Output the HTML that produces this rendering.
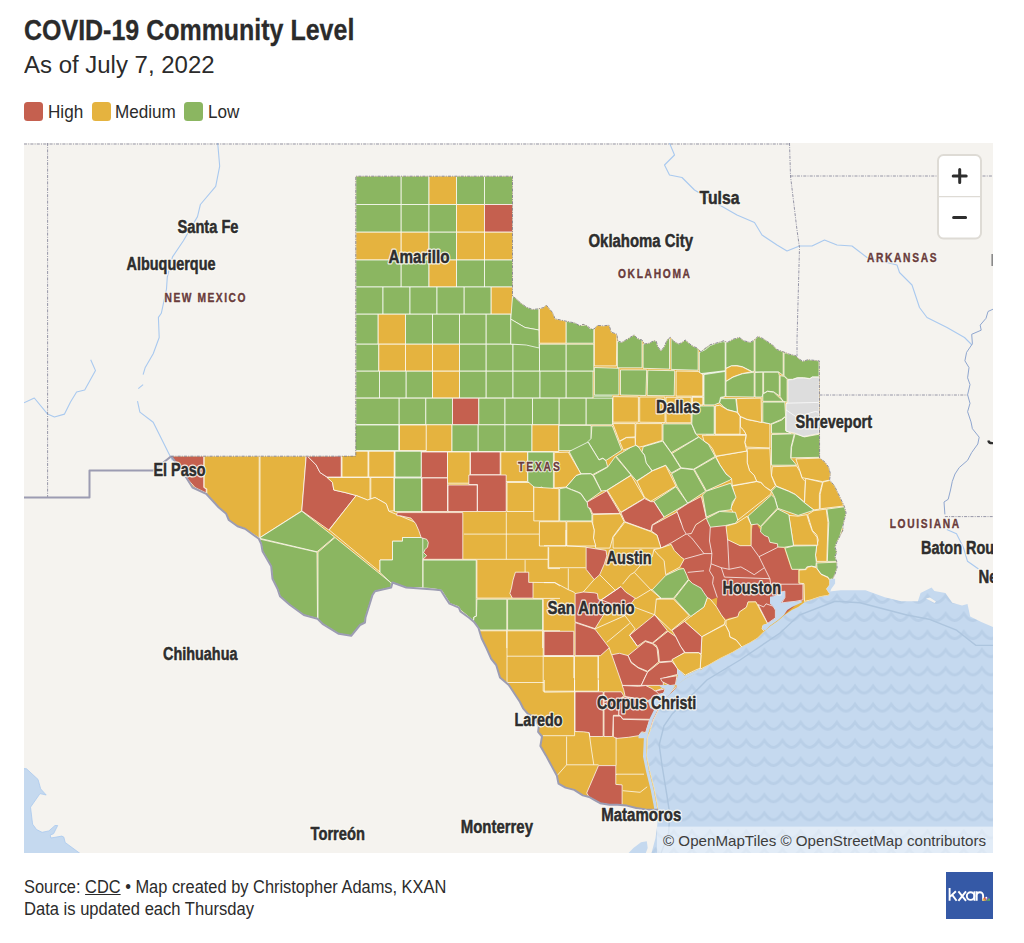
<!DOCTYPE html>
<html><head><meta charset="utf-8"><title>COVID-19 Community Level</title>
<style>
html,body{margin:0;padding:0;background:#fff;}
body{width:1024px;height:943px;position:relative;overflow:hidden;font-family:"Liberation Sans",sans-serif;color:#222;}
.abs{position:absolute;white-space:nowrap;transform-origin:0 0;}
#title{left:24px;top:12px;font-size:30.2px;line-height:36px;font-weight:bold;color:#2b2b2b;-webkit-text-stroke:0.3px #2b2b2b;transform:scaleX(0.8274);}
#sub{left:24px;top:50px;font-size:24.7px;line-height:30px;color:#2b2b2b;transform:scaleX(0.971);}
.sw{position:absolute;top:102px;width:19px;height:19px;border-radius:3.5px;}
.lg{top:100px;font-size:18.5px;line-height:24px;color:#2b2b2b;transform:scaleX(0.925);}
#map{position:absolute;left:24px;top:143px;width:969px;height:710px;overflow:hidden;background:#f5f3ef;}
#foot1{left:24px;top:876px;font-size:17.5px;line-height:22px;color:#2b2b2b;transform:scaleX(0.937);}
#foot2{left:24px;top:898px;font-size:17.5px;line-height:22px;color:#2b2b2b;transform:scaleX(0.9466);}
#logo{position:absolute;left:946px;top:872px;width:47px;height:47px;background:#3559a6;}
svg text{font-family:"Liberation Sans",sans-serif;}
</style></head><body>
<div id="title" class="abs">COVID-19 Community Level</div>
<div id="sub" class="abs">As of July 7, 2022</div>
<div class="sw" style="left:24px;background:#c5604f"></div><div class="abs lg" style="left:48px">High</div>
<div class="sw" style="left:91.5px;background:#e5b33f"></div><div class="abs lg" style="left:115px">Medium</div>
<div class="sw" style="left:184px;background:#8bb661"></div><div class="abs lg" style="left:208px">Low</div>
<div id="map">
<svg width="969" height="710" viewBox="24 143 969 710" style="position:absolute;left:0;top:0">
<defs><pattern id="wv" patternUnits="userSpaceOnUse" x="3.125" y="12.4" width="18.125" height="18.125"><rect width="18.125" height="18.125" fill="#c5d9ef"/><path d="M-9.0625,10 Q-4.53,10 0,3 Q9.0625,17 18.125,3 Q22.65,10 27.19,10" fill="none" stroke="#b9cfe7" stroke-width="2.8" filter="url(#bl)"/></pattern><filter id="bl" x="-20%" y="-50%" width="140%" height="200%"><feGaussianBlur stdDeviation="0.7"/></filter></defs>
<rect x="24" y="143" width="969" height="710" fill="#f5f3ef"/>
<polygon fill="url(#wv)" points="829.6,593.6 828.8,595.2 820.2,596.7 810.8,599.9 804.5,602.2 798.2,606.9 791.9,610.1 784.1,615.6 777.8,621.1 769.9,626.6 764.5,631.3 757.4,638.3 749.5,643 741.7,647 732.3,652.5 719.7,658.7 708.7,665 704,667.4 700.5,670.3 695,673.8 685.6,678.5 677,684.8 676.4,687.6 669.9,694.2 663.6,700.5 659.2,708.6 653.5,720 650,731.5 647.7,737.3 646.8,756.4 650,771.6 654.4,788.8 657.3,804.1 658.2,809.8 657.3,825 655.4,838.5 651.5,853 993,853 993,627 981.3,622 970.2,616.5 967.5,604 962,605.4 952.3,602.7 945.4,593 934.4,591.1 931.6,587.5 920.6,593 917.9,601.3 901.3,601.3 884.8,597.2 865.5,590.3 840.7,590.3 829.6,591.6"/>
<polygon fill="#f5f3ef" points="926,598.5 934.5,603 936,601.5 930,597.5"/>
<polygon fill="#c5d9ef" points="628.6,853 633.4,848 641,842.3 646.8,841.3 647.7,848 645.8,853"/>
<polygon fill="#c5d9ef" stroke="#a9c9ef" stroke-width="0.8" points="23,768.5 26.5,768.8 38,779.4 40.7,788.9 46.2,795 40,793.6 30.5,807.2 32.6,824.2 36.6,829.6 42.1,832.3 48.9,830.9 55,825.5 57.7,825.5 53.6,833.7 50.2,835 50.9,838 61.8,836.1 63.8,837.1 65.2,842.5 80.1,853.5 23,853.5"/>
<polyline fill="none" stroke="#adc5de" stroke-width="1.4" points="661.1,853 668.7,832.7 669.7,813.7 666.8,794.6 662.1,765.9 659.2,744.9 664,725.8 672.6,713.4 695.5,691.5 706.9,680 740,660 780,633 799.3,615 835.1,601.3 860,602.7 906.8,615 928.9,619.2 956.5,630.2 975.8,645.4 993,645.4"/>
<polyline fill="none" stroke="#a9c9ef" stroke-width="1.1" stroke-linejoin="round" points="217.7,143 219.7,166.2 215.7,186.4 200.4,204.5 197.5,216.6 183.4,240.8 172.5,256.9 167.3,277 166.5,289 161.3,313.3 158.4,317.4 159.2,337.5 153.2,353.7 145.1,367.8 143.1,374.6"/>
<polyline fill="none" stroke="#a9c9ef" stroke-width="1.1" stroke-linejoin="round" points="138.3,388.7 143.1,384.7"/>
<polyline fill="none" stroke="#a9c9ef" stroke-width="1.1" stroke-linejoin="round" points="137.5,401.2 139.9,412.1 153.2,422.2 159.2,434.3 169.3,454.4 172.5,460.5"/>
<polyline fill="none" stroke="#a9c9ef" stroke-width="1.1" stroke-linejoin="round" points="24,402.8 34.3,398 47.6,414.1 54.4,417 64.5,414.1 70.5,402 76.6,392 84.7,390 95.5,370.6 90.7,359.7"/>
<polyline fill="none" stroke="#a9c9ef" stroke-width="1.1" stroke-linejoin="round" points="669.5,143 674.5,155 664.5,165 669.5,175 682,177.5 694.5,190 719.5,205 737,215 754.5,222.5 762,235 777,245 787,251 799.5,246 812,246 824.5,240 837,245 852,246 867,257.5 897,265 899.5,272.5 912,285 919.5,307.5 927,317.5 947,327.5 964.5,337.5 972,345"/>
<polyline fill="none" stroke="#a9c9ef" stroke-width="1.1" stroke-linejoin="round" points="946.8,529.6 956.5,533.7 963.4,547.5 967.5,561.3 978.5,569"/>
<polyline fill="none" stroke="#7d7d94" stroke-width="0.8" stroke-dasharray="3,1.2,1,1.2" points="24,144 790,144"/>
<polyline fill="none" stroke="#7d7d94" stroke-width="0.8" stroke-dasharray="3,1.2,1,1.2" points="47.6,143 47.6,498"/>
<polyline fill="none" stroke="#7d7d94" stroke-width="0.8" stroke-dasharray="3,1.2,1,1.2" points="789.5,143 790.5,176 797,230 799.5,247.5 797,340 797,356"/>
<polyline fill="none" stroke="#7d7d94" stroke-width="0.8" stroke-dasharray="3,1.2,1,1.2" points="790.5,176 993,176"/>
<polyline fill="none" stroke="#7d7d94" stroke-width="0.8" stroke-dasharray="3,1.2,1,1.2" points="819.5,395 967.6,395"/>
<polyline fill="none" stroke="#7d7d94" stroke-width="0.8" stroke-dasharray="3,1.2,1,1.2" points="944.9,516.6 993,516.6"/>
<polyline fill="none" stroke="#8fa6cf" stroke-width="1" stroke-linejoin="round" points="993,309.2 988,311.5 986,318.3 980.2,325.1 981.2,330.2 971.7,334.3 972.4,343.8 966.6,352.3 964.9,360.8 969,367.6 967.6,377.8 970,384.6 967.6,394.8 970,403.3 967.6,411.7 971,421.9 972.4,428.7 979.2,437.2 977.8,444 971.7,452.5 967.6,460.3 959.2,467.6 955,474 952.3,481.4 950.5,490 948.2,499.3 944,502 944.9,514.4"/>
<rect x="991.4" y="254" width="1.8" height="12" fill="#8a8a8a"/>
<path d="M988.3,440.5q0.4,3 4.7,2.6" stroke="#2e2e2e" stroke-width="2.2" fill="none"/>
<polygon fill="#e5b33f" points="355.8,176.2 512.5,176.2 512.5,296.2 516.2,298.8 520,302.5 526.2,307 532.5,309.5 538.8,308.8 543.8,307.5 546.2,305 552.5,312.5 555,318.8 566.2,321.2 575,323 580,325.9 583.1,324.3 587.1,325.9 591,329 594.1,329 597.3,325.4 603.6,325.9 609,325.1 611.4,332.2 616.9,334.2 617.7,340.8 621.6,342.4 627.1,339.3 634.2,334.9 637.3,338.5 642,340 644.4,344 649.1,343.2 653.8,340.8 656.2,341.1 657.7,346.3 660.9,351 664,347.1 667.1,340 670.3,337.4 674.2,341.6 678.9,344 682.1,342.4 685.2,340 689.9,344 693,346.3 697,347.9 700.9,351.8 704.7,348.7 710.2,344.7 718.8,342.4 723.6,340.8 727.5,342.4 733,339.3 739.3,337.4 744,340.8 750.2,342.4 754.2,340 758.1,336.4 762.8,338.5 767.5,341.6 772.2,344.7 776.9,349.5 783.2,351.8 789.5,354.2 795.8,355.7 798.9,358.9 802.8,361.2 808.3,359.7 814.6,360.4 819.3,360.9 819.6,458 824.9,462 828.8,467.5 830.4,473.8 829.6,480 834.3,485.6 838.2,493.4 842.2,502 844.5,506.8 846.1,513 844.5,519.3 843,525.6 843,530 839.8,536.3 836.7,542.6 835.1,547.3 836.7,552 835.1,556.7 836.7,561.4 837.1,567.7 835.1,574 832.7,578.7 829.6,579.5 829.6,585 826.5,588.9 829.6,593.6 828.8,595.2 820.2,596.7 810.8,599.9 804.5,602.2 798.2,606.9 791.9,610.1 784.1,615.6 777.8,621.1 769.9,626.6 764.5,631.3 757.4,638.3 749.5,643 741.7,647 732.3,652.5 719.7,658.7 708.7,665 704,667.4 700.5,670.3 695,673.8 685.6,678.5 677,684.8 676.4,687.6 669.9,694.2 663.6,700.5 659.2,708.6 653.5,720 650,731.5 647.7,737.3 646.8,756.4 650,771.6 654.4,788.8 657.3,804.1 658.2,809.8 645.6,809.5 636.2,808 626.8,805.6 617.3,804.8 609.5,804.8 600.1,803.2 594.6,800.1 589.1,797 582.8,795.4 574.2,789.9 565.5,787.6 558.5,783.6 556.9,775.8 551.4,765.6 545.9,755.4 540.4,745.9 542,736.5 538.1,731.8 538.8,726.3 534.9,717.7 527.9,713.8 523.1,708.3 520,702 516.2,696.2 508.8,685 500,677.5 496.2,665 491.2,658.8 486.4,648 481.6,638.2 478.5,628 473.8,621.7 469.1,617.8 460.4,611.5 458.9,607.6 449.5,603.6 446.3,598.9 440.8,590.3 433.8,589.5 423.6,588.7 413.3,587.9 406.2,587.5 392.5,582.5 391.2,587.5 375,591.2 372.5,595 365.5,617.5 365,622.5 360,625 351.2,635.8 338.8,633.8 322.5,623.8 317.5,618.8 303.8,615 290,605 280,596.2 277.5,588.8 272.5,578.8 271.2,566.2 262.5,551.2 261.2,543.8 258.8,538.8 245,528.8 237.5,526.2 228.8,520 226.2,513.8 218.8,507.5 206.2,493.8 192.5,487.5 186.2,477.5 171.2,456.2 355.8,456.2"/>
<clipPath id="tx"><polygon points="355.8,176.2 512.5,176.2 512.5,296.2 516.2,298.8 520,302.5 526.2,307 532.5,309.5 538.8,308.8 543.8,307.5 546.2,305 552.5,312.5 555,318.8 566.2,321.2 575,323 580,325.9 583.1,324.3 587.1,325.9 591,329 594.1,329 597.3,325.4 603.6,325.9 609,325.1 611.4,332.2 616.9,334.2 617.7,340.8 621.6,342.4 627.1,339.3 634.2,334.9 637.3,338.5 642,340 644.4,344 649.1,343.2 653.8,340.8 656.2,341.1 657.7,346.3 660.9,351 664,347.1 667.1,340 670.3,337.4 674.2,341.6 678.9,344 682.1,342.4 685.2,340 689.9,344 693,346.3 697,347.9 700.9,351.8 704.7,348.7 710.2,344.7 718.8,342.4 723.6,340.8 727.5,342.4 733,339.3 739.3,337.4 744,340.8 750.2,342.4 754.2,340 758.1,336.4 762.8,338.5 767.5,341.6 772.2,344.7 776.9,349.5 783.2,351.8 789.5,354.2 795.8,355.7 798.9,358.9 802.8,361.2 808.3,359.7 814.6,360.4 819.3,360.9 819.6,458 824.9,462 828.8,467.5 830.4,473.8 829.6,480 834.3,485.6 838.2,493.4 842.2,502 844.5,506.8 846.1,513 844.5,519.3 843,525.6 843,530 839.8,536.3 836.7,542.6 835.1,547.3 836.7,552 835.1,556.7 836.7,561.4 837.1,567.7 835.1,574 832.7,578.7 829.6,579.5 829.6,585 826.5,588.9 829.6,593.6 828.8,595.2 820.2,596.7 810.8,599.9 804.5,602.2 798.2,606.9 791.9,610.1 784.1,615.6 777.8,621.1 769.9,626.6 764.5,631.3 757.4,638.3 749.5,643 741.7,647 732.3,652.5 719.7,658.7 708.7,665 704,667.4 700.5,670.3 695,673.8 685.6,678.5 677,684.8 676.4,687.6 669.9,694.2 663.6,700.5 659.2,708.6 653.5,720 650,731.5 647.7,737.3 646.8,756.4 650,771.6 654.4,788.8 657.3,804.1 658.2,809.8 645.6,809.5 636.2,808 626.8,805.6 617.3,804.8 609.5,804.8 600.1,803.2 594.6,800.1 589.1,797 582.8,795.4 574.2,789.9 565.5,787.6 558.5,783.6 556.9,775.8 551.4,765.6 545.9,755.4 540.4,745.9 542,736.5 538.1,731.8 538.8,726.3 534.9,717.7 527.9,713.8 523.1,708.3 520,702 516.2,696.2 508.8,685 500,677.5 496.2,665 491.2,658.8 486.4,648 481.6,638.2 478.5,628 473.8,621.7 469.1,617.8 460.4,611.5 458.9,607.6 449.5,603.6 446.3,598.9 440.8,590.3 433.8,589.5 423.6,588.7 413.3,587.9 406.2,587.5 392.5,582.5 391.2,587.5 375,591.2 372.5,595 365.5,617.5 365,622.5 360,625 351.2,635.8 338.8,633.8 322.5,623.8 317.5,618.8 303.8,615 290,605 280,596.2 277.5,588.8 272.5,578.8 271.2,566.2 262.5,551.2 261.2,543.8 258.8,538.8 245,528.8 237.5,526.2 228.8,520 226.2,513.8 218.8,507.5 206.2,493.8 192.5,487.5 186.2,477.5 171.2,456.2 355.8,456.2"/></clipPath>
<g clip-path="url(#tx)" stroke="#fff" stroke-width="0.8" stroke-linejoin="round" stroke-opacity="0.92">
<polygon stroke="none" fill="#8bb661" points="593.8,394.2 612.2,394.2 612.2,400.5 593.8,400.5"/>
<polygon stroke="none" fill="#c5604f" points="690.8,534.2 695.8,525.3 706.4,518.5 710.3,527.2 725.2,525.6 726,526.1 727.6,539.7 740.1,545.7 751.1,545.7 751.9,530 752.7,525.6 756.6,523.2 758.2,526.4 762.9,533.5 764.4,535.5 768.4,537.1 769.9,542.6 777.5,544.1 777.8,547.3 784.1,548.1 791.1,569.3 798.2,570 798.2,583.4 803.2,583.7 803.2,600.7 798.2,603 784.1,614.8 776.2,619.5 767.6,623.4 758.2,604.6 755.8,601.4 748,601.4 746.4,606.9 739.3,611.6 737.8,616.4 729.1,617.9 726,619.5 721.3,614.8 716.6,606.9 717.3,597.5 711.9,599.4 707.3,599.4 702.4,595.2 697.7,589.7"/>
<polygon stroke="none" fill="#c5604f" points="659.4,548.1 671.2,542.9 686.9,533.5 690.8,534.2 705.7,530.3 705.7,590.4 701,588.1 692.4,583.4 689.2,579.5 687.2,575.5 683.7,568.2 679.8,566.9 684.5,559 680.6,556.7 674.3,550.4 671.2,544.1"/>
<polygon stroke="none" fill="#8bb661" points="393.7,538.5 403.1,537.7 421.2,537.7 426.7,539.3 428.3,542.4 427.5,547.1 423.6,552.6 426.7,555.7 422,559.7 422,587.6 413.3,587.9 404.7,587.9 400,585.6 393.7,584.8"/>
<polygon fill="#8bb661" points="355.8,176.2 401.2,176.2 401.2,204.5 355.8,204.5"/>
<polygon fill="#8bb661" points="401.2,176.2 429,176.2 429,204.5 401.2,204.5"/>
<polygon fill="#e5b33f" points="429,176.2 456.5,176.2 456.5,204.5 429,204.5"/>
<polygon fill="#8bb661" points="456.5,176.2 484.5,176.2 484.5,204.5 456.5,204.5"/>
<polygon fill="#8bb661" points="484.5,176.2 512.5,176.2 512.5,204.5 484.5,204.5"/>
<polygon fill="#8bb661" points="355.8,204.5 401.2,204.5 401.2,232.2 355.8,232.2"/>
<polygon fill="#8bb661" points="401.2,204.5 429,204.5 429,232.2 401.2,232.2"/>
<polygon fill="#8bb661" points="429,204.5 456.5,204.5 456.5,232.2 429,232.2"/>
<polygon fill="#e5b33f" points="456.5,204.5 484.5,204.5 484.5,232.2 456.5,232.2"/>
<polygon fill="#c5604f" points="484.5,204.5 512.5,204.5 512.5,232.2 484.5,232.2"/>
<polygon fill="#e5b33f" points="355.8,232.2 401.2,232.2 401.2,260 355.8,260"/>
<polygon fill="#e5b33f" points="401.2,232.2 429,232.2 429,260 401.2,260"/>
<polygon fill="#8bb661" points="429,232.2 456.5,232.2 456.5,260 429,260"/>
<polygon fill="#e5b33f" points="456.5,232.2 484.5,232.2 484.5,260 456.5,260"/>
<polygon fill="#e5b33f" points="484.5,232.2 512.5,232.2 512.5,260 484.5,260"/>
<polygon fill="#8bb661" points="355.8,260 401.2,260 401.2,287 355.8,287"/>
<polygon fill="#8bb661" points="401.2,260 429,260 429,287 401.2,287"/>
<polygon fill="#e5b33f" points="429,260 456.5,260 456.5,287 429,287"/>
<polygon fill="#8bb661" points="456.5,260 484.5,260 484.5,287 456.5,287"/>
<polygon fill="#8bb661" points="484.5,260 512.5,260 512.5,287 484.5,287"/>
<polygon fill="#8bb661" points="355.8,287 383,287 383,314.2 355.8,314.2"/>
<polygon fill="#8bb661" points="383,287 410,287 410,314.2 383,314.2"/>
<polygon fill="#8bb661" points="410,287 437,287 437,314.2 410,314.2"/>
<polygon fill="#8bb661" points="437,287 464.2,287 464.2,314.2 437,314.2"/>
<polygon fill="#8bb661" points="464.2,287 491.2,287 491.2,314.2 464.2,314.2"/>
<polygon fill="#e5b33f" points="491.2,287 512.5,287 512.5,314.2 491.2,314.2"/>
<polygon fill="#8bb661" points="355.8,314.2 378.2,314.2 378.2,344.2 355.8,344.2"/>
<polygon fill="#e5b33f" points="378.2,314.2 405.5,314.2 405.5,344.2 378.2,344.2"/>
<polygon fill="#8bb661" points="405.5,314.2 432.5,314.2 432.5,344.2 405.5,344.2"/>
<polygon fill="#8bb661" points="432.5,314.2 459.5,314.2 459.5,344.2 432.5,344.2"/>
<polygon fill="#8bb661" points="459.5,314.2 486.2,314.2 486.2,344.2 459.5,344.2"/>
<polygon fill="#8bb661" points="486.2,314.2 510.8,314.2 510.8,344.2 486.2,344.2"/>
<polygon fill="#8bb661" points="355.8,344.2 378.8,344.2 378.8,371.2 355.8,371.2"/>
<polygon fill="#e5b33f" points="378.8,344.2 405.5,344.2 405.5,371.2 378.8,371.2"/>
<polygon fill="#e5b33f" points="405.5,344.2 432.5,344.2 432.5,371.2 405.5,371.2"/>
<polygon fill="#e5b33f" points="432.5,344.2 459.5,344.2 459.5,371.2 432.5,371.2"/>
<polygon fill="#8bb661" points="459.5,344.2 486.2,344.2 486.2,371.2 459.5,371.2"/>
<polygon fill="#8bb661" points="486.2,344.2 513,344.2 513,371.2 486.2,371.2"/>
<polygon fill="#8bb661" points="513,344.2 539.5,344.2 539.5,371.2 513,371.2"/>
<polygon fill="#8bb661" points="539.5,344.2 566.2,344.2 566.2,371.2 539.5,371.2"/>
<polygon fill="#8bb661" points="566.2,344.2 593.8,344.2 593.8,371.2 566.2,371.2"/>
<polygon fill="#8bb661" points="355.8,371.2 379.5,371.2 379.5,398 355.8,398"/>
<polygon fill="#8bb661" points="379.5,371.2 406.2,371.2 406.2,398 379.5,398"/>
<polygon fill="#8bb661" points="406.2,371.2 432.5,371.2 432.5,398 406.2,398"/>
<polygon fill="#e5b33f" points="432.5,371.2 459.5,371.2 459.5,398 432.5,398"/>
<polygon fill="#8bb661" points="459.5,371.2 486.2,371.2 486.2,398 459.5,398"/>
<polygon fill="#8bb661" points="486.2,371.2 513,371.2 513,398 486.2,398"/>
<polygon fill="#8bb661" points="513,371.2 540,371.2 540,398 513,398"/>
<polygon fill="#8bb661" points="540,371.2 566.2,371.2 566.2,398 540,398"/>
<polygon fill="#8bb661" points="566.2,371.2 593,371.2 593,398 566.2,398"/>
<polygon fill="#8bb661" points="510.8,319.2 512.5,296.2 516.2,298.8 520,302.5 526.2,307 532.5,309.5 538.8,308.8 538.8,330 525,327.5"/>
<polygon fill="#8bb661" points="510.8,319.2 525,327.5 538.8,330 539.2,348 526.2,345 513,344.2 510.8,344.2"/>
<polygon fill="#e5b33f" points="539.5,308.8 543.8,307.5 546.2,305 552.5,312.5 555,318.8 566.2,321.2 566.2,343.2 539.5,343.2"/>
<polygon fill="#8bb661" points="566.2,321.2 575,323 581.2,325.5 586.2,325 590,328.8 593.8,328 593.8,343.2 566.2,343.2"/>
<polygon fill="#8bb661" points="355.8,398.2 399.2,398.2 399.2,424.8 355.8,424.8"/>
<polygon fill="#8bb661" points="399.2,398.2 425.8,398.2 425.8,424.8 399.2,424.8"/>
<polygon fill="#8bb661" points="425.8,398.2 452.5,398.2 452.5,424.8 425.8,424.8"/>
<polygon fill="#c5604f" points="452.5,398.2 478.8,398.2 478.8,424.8 452.5,424.8"/>
<polygon fill="#8bb661" points="478.8,398.2 505,398.2 505,424.8 478.8,424.8"/>
<polygon fill="#8bb661" points="505,398.2 532.5,398.2 532.5,424.8 505,424.8"/>
<polygon fill="#8bb661" points="532.5,398.2 559.2,398.2 559.2,424.8 532.5,424.8"/>
<polygon fill="#8bb661" points="559.2,398.2 586.2,398.2 586.2,424.8 559.2,424.8"/>
<polygon fill="#8bb661" points="586.2,398.2 612.5,398.2 612.5,424.8 586.2,424.8"/>
<polygon fill="#8bb661" points="355.8,424.8 399.2,424.8 399.2,451.5 355.8,451.5"/>
<polygon fill="#e5b33f" points="399.2,424.8 425.8,424.8 425.8,451.5 399.2,451.5"/>
<polygon fill="#e5b33f" points="425.8,424.8 452,424.8 452,451.5 425.8,451.5"/>
<polygon fill="#8bb661" points="452,424.8 478.2,424.8 478.2,451.5 452,451.5"/>
<polygon fill="#8bb661" points="478.2,424.8 505,424.8 505,451.5 478.2,451.5"/>
<polygon fill="#8bb661" points="505,424.8 532,424.8 532,451.5 505,451.5"/>
<polygon fill="#e5b33f" points="532,424.8 558.8,424.8 558.8,451.5 532,451.5"/>
<polygon fill="#c5604f" points="335,452 341.2,452 341.2,477.8 335,477.8"/>
<polygon fill="#e5b33f" points="341.2,452 368.2,452 368.2,477.8 341.2,477.8"/>
<polygon fill="#e5b33f" points="368.2,452 395,452 395,477.8 368.2,477.8"/>
<polygon fill="#8bb661" points="395,452 421.2,452 421.2,477.8 395,477.8"/>
<polygon fill="#c5604f" points="421.2,452 447.5,452 447.5,477.8 421.2,477.8"/>
<polygon fill="#e5b33f" points="447.5,452 470,452 470,483.2 447.5,483.2"/>
<polygon fill="#c5604f" points="470.5,452 500.2,452 500.2,474.8 470.5,474.8"/>
<polygon fill="#e5b33f" points="500.8,452 527.5,452 527.5,481.5 500.8,481.5"/>
<polygon fill="#8bb661" points="394.5,478 421.5,478 421.5,511.5 394.5,511.5"/>
<polygon fill="#c5604f" points="422,478 447.5,478 447.5,511.5 422,511.5"/>
<polygon fill="#c5604f" points="448,485 477.2,485 477.2,511.5 448,511.5"/>
<polygon fill="#c5604f" points="468.8,475 506.2,475 506.2,511.5 477.5,511.5 477.5,484.5 468.8,484.5"/>
<polygon fill="#e5b33f" points="507,482.5 533.8,482.5 533.8,511.5 507,511.5"/>
<polygon fill="#c5604f" points="171.2,456.2 203.8,456.2 203.8,487.5 206.2,488.8 206.2,493 195,487.5 186.2,477.5"/>
<polygon fill="#e5b33f" points="204.2,456.2 259.2,456.2 259.2,538 245,528.8 237.5,526.2 228.8,520 226.2,513.8 218.8,507.5 206.8,493.8 206.8,488.8 204.2,487.5"/>
<polygon fill="#e5b33f" points="260,456.2 306.2,456.2 301.8,510.8 260,537.5"/>
<polygon fill="#c5604f" points="307.5,456.2 316.2,465 320,472.5 327.5,477.5 332.5,482.5 333.8,490 345,492.5 356.2,495.5 328.8,530 301.8,510.8 306.2,456.2"/>
<polygon fill="#c5604f" points="307.5,456.2 341.2,456.2 341.2,477 327,477 320,472.5 316.2,465"/>
<polygon fill="#e5b33f" points="342,451.2 368,451.2 368,477 342,477"/>
<polygon fill="#e5b33f" points="368.8,451.2 394.2,451.2 394.2,477 368.8,477"/>
<polygon fill="#8bb661" points="395,451.2 421.2,451.2 421.2,477 395,477"/>
<polygon fill="#8bb661" points="355,425 398.8,425 398.8,450.5 355,450.5"/>
<polygon fill="#e5b33f" points="399.5,425 426.2,425 426.2,450.5 399.5,450.5"/>
<polygon fill="#e5b33f" points="327,477.5 370,477.5 370,499.5 367.5,500 356.2,495.5 345,492.5 333.8,490 332.5,482.5"/>
<polygon fill="#e5b33f" points="370.8,477.5 393.8,477.5 393.8,510.8 388.8,511.2 386.2,503.8 375,497.5 370.8,499"/>
<polygon fill="#8bb661" points="259.2,538.2 301.8,511.2 334.5,537 317,551.8"/>
<polygon fill="#8bb661" points="259.5,539 317,552.2 317.5,618.5 303.8,615 290,605 280,596.2 277.5,588.8 272.5,578.8 271.2,566.2 262.5,551.2 261.2,543.8"/>
<polygon fill="#8bb661" points="318,552.2 335,537.5 391.2,583 391.2,587.5 375,591.2 372.5,595 365.5,617.5 365,622.5 360,625 351.2,635.8 338.8,633.8 322.5,623.8 318,619"/>
<polygon fill="#e5b33f" points="356.2,495.5 367.5,500 375,497.5 386.2,503.8 388.8,511.2 415.8,522.5 432.5,520 432.5,537.5 402.5,537.5 402.5,541.2 392.5,541.2 392.5,560 380,560 380,572 329.2,530"/>
<polygon fill="#8bb661" points="380,560 392.5,560 392.5,541.2 402.5,541.2 402.5,537.5 422.8,537.5 422.8,587.5 406.2,587.5 392.5,582.5 391.2,583 380,572.5"/>
<polygon fill="#8bb661" points="558.9,425.4 591.1,425.4 591.1,450.6 558.9,450.6"/>
<polygon fill="#8bb661" points="591.9,425.9 612.3,425.9 621.7,450.2 606,460.4 602.9,458.1 599,459.7 588,441.6 591.1,438.5"/>
<polygon fill="#8bb661" points="663,423.9 691.6,423.9 695.5,433.8 698.7,436.9 671.2,452.6 663,440.8"/>
<polygon fill="#8bb661" points="643.2,446.8 662.5,441.1 671.2,452.9 680.6,467.8 671.2,473 665.7,465.2 652.3,470.7 646.1,462.8 644.5,455 642.1,451.8"/>
<polygon fill="#8bb661" points="616.2,456.2 635.1,444.7 639,447.6 642.1,452.3 644.5,455.3 646.1,462.8 652,471 636.6,480.9 631.1,474.6"/>
<polygon fill="#8bb661" points="569.1,451.5 588,442.1 599,460 602.9,458.4 606,460.9 607.6,466.7 592.7,474.6 590.6,473.5 580.9,473.8"/>
<polygon fill="#8bb661" points="593.5,475.1 607.6,467.2 615.4,456.5 631.1,475.1 606.8,490.3 601.3,491.1"/>
<polygon fill="#8bb661" points="566,487.1 576.2,475.4 580.9,474.1 590.6,473.8 593,475.4 601.3,491.4 587.2,501.7 585.6,500.5 580.9,493.4 577.8,491.9 571.5,489.5"/>
<polygon fill="#e5b33f" points="554.2,452.6 568.3,452.1 580.9,473.8 576.2,475.4 566,487.1 554.2,487.9"/>
<polygon fill="#8bb661" points="527.8,452.1 553.4,452.1 553.4,488.2 547.1,491.1 541.6,487.1 536.1,488.7 527.8,481.6"/>
<polygon fill="#8bb661" points="559.7,488.7 566,487.6 571.5,489.8 577.8,492.3 580.9,493.9 585.6,500.8 587.2,502.4 591.9,514.6 591.9,520.9 559.7,520.9"/>
<polygon fill="#c5604f" points="587.2,502.1 606.8,490.8 620.2,513.4 592.7,513.8 590.3,508.3 588,507.6"/>
<polygon fill="#e5b33f" points="607.3,490.3 631.1,475.4 644.5,498.1 620.9,512.3"/>
<polygon fill="#e5b33f" points="637,481.2 652.3,471 665.7,465.5 675.9,486 650.8,501.3 644.5,497.3"/>
<polygon fill="#8bb661" points="671.5,473.8 681.1,468.3 693.6,469.7 705.6,491.2 687.7,503.2 677.3,486.8"/>
<polygon fill="#8bb661" points="672.1,453.4 698.8,437.1 708.5,444.4 715.1,456.4 693.6,469.2 681.1,467.8"/>
<polygon fill="#8bb661" points="653.9,501.3 675.9,486.7 687.7,503.3 664.1,517"/>
<polygon fill="#c5604f" points="620.9,512.7 644.5,498.6 650.8,501.7 653.9,501.7 664.1,517.4 652.3,524.8 650.8,531.1 624.9,521.7"/>
<polygon fill="#c5604f" points="652.3,525.3 677.5,511.8 680.6,521.7 685.3,530.3 686.9,533.5 671.2,542.9 661,548.1 657,535 651.6,531.1"/>
<polygon fill="#c5604f" points="676.7,510.8 687.7,503.6 701.3,496.4 706.3,517.9 695.8,524.7 691.4,533.5 686.3,534.2 683.3,529.1 680.3,520.1"/>
<polygon fill="#e5b33f" points="592.7,514.6 620.2,513.8 624.1,521.7 613.1,536.6 609.9,548.1 595.8,548.1 593.5,538.2 594.2,530.3 592.7,524"/>
<polygon fill="#e5b33f" points="624.9,522.2 650.8,531.6 657,535.3 661,548.1 613.1,548.1 613.1,537.4"/>
<polygon fill="#e5b33f" points="566.8,521.7 591.9,521.7 593,525.6 594.2,530.3 593.5,538.2 595.8,546 566.8,546"/>
<polygon fill="#e5b33f" points="539.4,521.7 566,521.7 566,546 539.4,546"/>
<polygon fill="#e5b33f" points="533.8,487.1 558.9,488.7 558.9,520.9 533.8,520.9"/>
<polygon fill="#e5b33f" points="612.8,423.6 635.1,423.6 635.1,436.9 626.4,437.4 619.4,441.1"/>
<polygon fill="#e5b33f" points="619.7,441.6 626.4,437.7 635.1,437.7 635.4,445.5 623.3,450.2"/>
<polygon fill="#e5b33f" points="635.9,423.6 662.1,423.6 662.1,440.5 642.9,446.3 639,447.1 635.4,444.7"/>
<polygon fill="#8bb661" points="771.5,424.3 781.7,420.1 785.6,416.5 785.6,430.6 791.1,433.3 771.5,433.3"/>
<polygon fill="#8bb661" points="771.5,434.5 794.3,433.8 791.1,447.1 790.7,458.1 796.6,465.2 771.5,465.2"/>
<polygon fill="#8bb661" points="795.1,433.8 804.5,436.9 819.9,434.1 819.9,457.3 791.1,457.8 791.6,447.1"/>
<polygon fill="#e5b33f" points="795.9,458.9 819.9,458.1 824.9,462 828.8,467.5 830.4,473.8 829.6,480.1 822.5,481.6 802.1,477.7 799.8,470.7"/>
<polygon fill="#e5b33f" points="772.3,466.7 796.6,465.9 799.8,471.4 802.1,478.2 805.3,481.6 804.5,502.1 795.1,494.2 788.8,491.1 776.2,486 771.5,475.4"/>
<polygon fill="#e5b33f" points="805.7,478.5 822.5,482.4 819.4,494.2 819.4,509.1 813.9,509.9 804.5,502.8"/>
<polygon fill="#e5b33f" points="823,482 829.6,480.5 834.3,485.6 838.2,493.4 842.2,502.1 843.7,506 820.2,508.8 820.2,494.2"/>
<polygon fill="#8bb661" points="776.2,486.4 788.8,491.4 795.1,494.5 804.5,502.8 813.9,510.2 798.2,515.4 777.8,508.3 774.7,497.3 771.5,491.1"/>
<polygon fill="#8bb661" points="826.9,509.1 844.2,506.8 846.1,513 843,525.6 839.8,536.3 836.7,542.6 835.1,547.3 836.7,552 835.1,556.7 836.7,561.4 827.3,561.4 828.8,522.5"/>
<polygon fill="#e5b33f" points="807.6,514.6 813.9,510.7 826.2,509.1 828,522.5 826.8,561.4 816.7,561.4 815.5,555.1 816.7,545.7 818.3,540.2 816.7,534.7 812.3,530.3 810,522.5"/>
<polygon fill="#e5b33f" points="788.8,515.4 798.2,516.2 806.8,514.6 809.2,522.5 812.3,531.1 817,537.4 817.8,545.2 793.5,545.2"/>
<polygon fill="#8bb661" points="761.3,526.4 777.8,509.1 788.8,514.6 793.5,545.7 784.1,547.3 777.8,547 777.5,543.8 769.9,542.3 768.4,537.1 764.4,535.5 760.5,531.9"/>
<polygon fill="#8bb661" points="748,516.2 771.5,495 774.7,498.1 777.5,508 760.5,526.4 757.4,524 751.1,524.8"/>
<polygon fill="#e5b33f" points="732.3,486 756.6,481.6 760.5,482.4 768.4,489.5 771.5,491.1 770.7,494.2 737.8,520.1 735.4,516.2 730.7,508.3 735.4,498.1"/>
<polygon fill="#e5b33f" points="747.2,448.7 769.9,448.7 770.7,465.9 771.5,476.2 775.4,485.6 770.7,490.3 764.4,486.4 761.3,482.4 756.6,481.3 754.2,475.4 749.5,470.7 747.2,462.8"/>
<polygon fill="#e5b33f" points="715.8,456.5 747.2,451 747.2,462.8 749.5,470.7 754.2,475.4 756.6,481.3 732.3,485.6 731.5,478.5 726,473.8 719.7,464.4"/>
<polygon fill="#e5b33f" points="702.4,435.3 746.1,435.3 744.8,442.4 746.7,451 715.8,456.2 712.6,448.7 708.7,444 704,441.1"/>
<polygon fill="#e5b33f" points="740.1,416.5 747.2,419.6 759.7,422 769.9,423.6 769.9,447.9 746.4,447.1 745.1,442.4 746.4,435.3 743.3,429.8 740.1,426.7"/>
<polygon fill="#e5b33f" points="715,406.3 719.7,405.5 726.8,409.4 737,411.8 740.1,416.5 740.1,426.7 743.3,429.8 746.1,434.5 715,434.5"/>
<polygon fill="#8bb661" points="694.4,469.4 715.6,457.2 719.7,464.7 726,474.1 731.5,478.5 729.9,480.1 706.4,490.8"/>
<polygon fill="#8bb661" points="702.6,495 706.4,491.2 730.7,483.2 732.3,487.5 736,497.2 732.3,502.4 730.8,509.8 718.9,511.3 706.4,517.1"/>
<polygon fill="#8bb661" points="706.4,518.5 719.7,511.5 735.4,512.3 737.8,520.1 735.4,523.3 725.2,525.6 710.3,527.2"/>
<polygon fill="#e5b33f" points="726,526.1 736.2,523.3 747.2,516.2 751.1,524.8 751.1,545.7 740.1,545.7 727.6,539.7"/>
<polygon fill="#8bb661" points="700,351.8 704.7,348.7 710.2,344.7 718.8,342.4 723.6,340.8 725.1,341.6 725.4,370.7 700,373.8"/>
<polygon fill="#8bb661" points="725.9,342.1 727.5,342.4 733,339.3 739.3,337.4 744,340.8 750.2,342.4 754.2,340.2 754.2,371.4 751.8,371.4 742.4,366.7 736.9,365.6 731.4,365.9 725.9,368.3"/>
<polygon fill="#e5b33f" points="725.9,368.6 731.4,365.9 736.9,365.9 742.4,367 751.8,371.8 742.4,373.5 733,376.9 725.9,381.3"/>
<polygon fill="#8bb661" points="755,339.7 758.1,336.4 762.8,338.5 767.5,341.6 772.2,344.7 776.9,349.5 783.2,351.8 783.2,375.4 778.5,371.9 755,371.9"/>
<polygon fill="#8bb661" points="784,352.6 789.5,354.2 795.8,355.7 798.9,358.9 802.8,361.2 808.3,359.7 814.6,360.4 819,360.9 819,376.9 812.3,376.9 809.9,378.5 803.6,377.7 797.3,377.7 792.6,379.3 787.9,379.3 784,375.7"/>
<polygon fill="#8bb661" points="725.9,381.6 733,377.2 742.4,373.8 754.2,372.2 754.2,397 725.9,396.6"/>
<polygon fill="#8bb661" points="703.9,374.1 725.1,371 725.1,396.6 720.4,398.1 719.2,402.8 703.9,404.4"/>
<polygon fill="#8bb661" points="755,372.5 762.8,372.2 762.8,394.2 762,397 755,397"/>
<polygon fill="#8bb661" points="763.6,372.2 778.5,372.2 779.3,375.4 779.3,395.8 773.8,391.9 767.5,391.1 763.6,393.4"/>
<polygon fill="#8bb661" points="780.1,375.7 784,376.2 787.1,379.3 787.1,402.1 783.2,401.3 780.1,396.6"/>
<polygon fill="#8bb661" points="762.8,394.2 767.5,391.4 773.8,392.3 783.2,401.3 762.8,401.3"/>
<polygon fill="#dddddd" points="787.9,379.8 792.6,379.6 797.3,378 803.6,378 809.9,378.8 812.3,377.2 819,377.2 819,433.5 803.6,436.6 795.8,433.5 786,431.1 786,403.6 787.9,402.4"/>
<polygon fill="#8bb661" points="762.8,402.1 784.8,402.1 785.6,416.2 781.6,419.3 770.7,424 762.8,422.2"/>
<polygon fill="#e5b33f" points="736.4,398.6 761.2,398.1 761.5,422.5 755,420.9 747.1,419.3 740,416.2 737.7,412.3"/>
<polygon fill="#8bb661" points="720.4,398.6 735.8,398.6 737.4,412.3 727.5,409.6 723.6,406.8 719.6,402.8"/>
<polygon fill="#8bb661" points="700,406.8 713.8,406.5 713.8,434.2 706.3,434.2 700,424"/>
<polygon fill="#e5b33f" points="700,374.6 703.1,374.6 703.1,395.8 700,395.8"/>
<polygon fill="#e5b33f" points="692.1,396.6 703.1,397 703.1,404.9 692.1,404.9"/>
<polygon fill="#e5b33f" points="594.4,329 597.3,325.4 603.6,325.9 609,325.1 611.4,332.2 616.9,334.2 616.4,365.9 594.4,365.9"/>
<polygon fill="#8bb661" points="617.4,341.1 621.6,342.4 627.1,339.3 634.2,334.9 637.3,338.5 642,340 642,367.8 617.4,367.8"/>
<polygon fill="#8bb661" points="643.1,344 649.1,343.2 653.8,340.8 656.2,341.1 657.7,346.3 660.9,351 664,347.1 667.1,340 669.5,337.7 669.5,369.1 643.1,368.3"/>
<polygon fill="#8bb661" points="671.1,338 674.2,341.6 678.9,344 682.1,342.4 685.2,340 689.9,344 693,346.3 697,347.9 698.1,349.5 698.1,370.2 671.1,369.4"/>
<polygon fill="#8bb661" points="699.3,352.6 700.9,351.8 705.6,349.5 710.3,345.5 716.6,343.2 722.9,341.6 725.2,342.1 725.2,370.7 699.3,373.8"/>
<polygon fill="#8bb661" points="594.4,367.5 618.9,368.3 618.9,395 594.4,395"/>
<polygon fill="#8bb661" points="620.5,369.9 646.7,369.9 645.9,395.5 620.5,395"/>
<polygon fill="#8bb661" points="647.8,370.2 674.7,370.7 674.2,395.8 647.2,395.5"/>
<polygon fill="#e5b33f" points="676.1,371 698.1,371.4 702.8,374.6 702.8,396.1 676.1,396.1"/>
<polygon fill="#8bb661" points="704,374.6 725.2,371.4 725.2,396.6 720.5,397.3 719.4,402.8 714.2,404.9 704,404.9"/>
<polygon fill="#e5b33f" points="613,396.6 638.4,396.9 638.4,422.2 613,422.2"/>
<polygon fill="#e5b33f" points="639.7,397 664.8,397 665.1,422.5 639.7,422.2"/>
<polygon fill="#e5b33f" points="666,397.3 691.2,397.3 691.2,422.8 666,422.8"/>
<polygon fill="#e5b33f" points="692.4,397.3 702.8,397.3 702.8,404.9 692.4,404.9"/>
<polygon fill="#8bb661" points="692.4,406 714.2,406 714.2,434.2 696.2,434.2 693.8,428.7 691.8,424"/>
<polygon fill="#e5b33f" points="715.3,406 719.7,405.2 723.7,407.6 727.6,409.9 737,412.3 740,416.2 740,434.2 715.3,434.2"/>
<polygon fill="#8bb661" points="784.9,548.1 793.8,546 816.7,545.7 815.5,555.1 816.3,562.2 815.8,566.9 811.6,566.1 806.8,566.9 805.3,569.3 791.9,569.3"/>
<polygon fill="#8bb661" points="816.7,563 836.7,562.2 837.1,567.7 835.1,574 832.7,578.7 829.6,579.5 828,577.1 821,574 817,568.5"/>
<polygon fill="#e5b33f" points="799,570 806.1,569.6 807.6,567.2 811.6,566.4 816.3,567.7 821,574.4 828,577.6 829.6,580.2 829.6,585 826.5,588.9 829.6,593.6 828.8,595.2 820.2,596.7 810.8,599.9 804.5,601.4 804,583.7 799,583.1"/>
<polygon fill="#c5604f" points="780.9,584.2 802.9,584.2 802.9,599.9 795.1,601.4 787.2,602.2 781.7,603 784.9,597.5 784.9,591.2 780.9,592"/>
<polygon fill="#c5604f" points="758.2,604.6 763.7,606.9 766,603.8 773.1,606.2 775.4,610.1 775.4,617.9 767.6,623.4"/>
<polygon fill="#e5b33f" points="726,620.3 737.8,616.7 739.3,612 746.4,607.2 748,601.9 755.8,601.8 767.6,623.7 762.9,625.5 762.1,628.9 764.4,631.3 757.4,638.3 749.5,643 741.7,647 736.2,639.9 729.9,636.8 729.1,632.1 726,625.8"/>
<polygon fill="#e5b33f" points="684.5,621.4 690.8,616.4 704,606.9 707.3,597.5 710.3,599.1 716.6,606.9 721.3,614.8 725.2,620.3 724.4,624.2 701.8,636.8"/>
<polygon fill="#e5b33f" points="701.8,636.8 724.7,624.7 726,626.1 729.1,632.4 729.9,637.1 736.2,640.2 741.7,647 732.3,652.5 719.7,658.7 708.7,665 702.4,668.2 700.2,669 701,654"/>
<polygon fill="#c5604f" points="586.1,547.3 606,550.4 606.8,555.9 604.4,563.8 599.7,574.7 594.2,579.5 586.1,569.3"/>
<polygon fill="#c5604f" points="601.3,599.9 620.9,586.5 625.6,592 635.1,598.3 629.6,605.4 624.9,615.6 611.5,608.5"/>
<polygon fill="#c5604f" points="575.1,593.6 583.3,592 594.2,592.8 597.4,593.6 598.2,599.1 601.3,599.9 611.5,603.8 602.1,617.1 595,628.6 575.1,621.9"/>
<polygon fill="#c5604f" points="575.1,622.6 595,629.2 609.2,647.8 600.5,655.6 575.1,655.6"/>
<polygon fill="#c5604f" points="544,631.3 573.8,631.3 573.8,655.6 544,655.6"/>
<polygon fill="#c5604f" points="629.6,635.2 654.7,614.8 667.3,630.5 652.3,643 645.3,640.7 637.4,646.2"/>
<polygon fill="#c5604f" points="652.7,643.4 668,631.3 675.9,636.8 680.6,646.2 684.5,652.5 674.3,658.7 671.2,661.1 659.4,661.9 658.3,650.1 656.3,645.4"/>
<polygon fill="#c5604f" points="672,630.5 684.5,621.4 701.8,636.8 701,654 698.7,652.5 685.3,652.8 680.6,646.2 675.9,636.8"/>
<polygon fill="#c5604f" points="628,655.6 645.3,641.5 652.3,643.8 657,647.8 658.6,661.9 647.6,671.3 638.2,667.4 631.1,661.9"/>
<polygon fill="#c5604f" points="611.8,654.8 619.4,653.3 628,655.6 631.1,662.7 638.2,667.9 647.6,672.1 644.5,678.1 641.3,685.4 622.5,685.4"/>
<polygon fill="#c5604f" points="647.6,672.1 659.4,662.7 672,661.6 677.5,668.2 677.5,674.4 663.3,678.1 663.3,685.4 641.3,685.4"/>
<polygon fill="#e5b33f" points="672,659.5 684.5,652.8 698.7,652.8 701,654.8 700.2,668.2 694.7,670.5 685.3,675.2 680.6,671.3 677.5,669"/>
<polygon fill="#8bb661" points="652.3,589.7 665.7,575.5 679,569.3 683.7,568.5 686.9,575.5 688.4,579.5 673.5,598.3 661,598.3"/>
<polygon fill="#8bb661" points="674.3,598.6 688.8,579.9 692.4,583.4 701,588.1 704,592.8 707.3,597.5 704,606.9 690.8,616.4"/>
<polygon fill="#e5b33f" points="653.9,549.6 659.4,548.5 671.2,544.4 674.3,550.4 680.6,556.7 684.1,559.4 679.8,567.2 665.7,574.7 664.1,560.6 657,553.6"/>
<polygon fill="#c5604f" points="575,691.8 603.2,691.8 603.2,736.5 589.9,736.5 589.1,732.6 583.6,731.8 575,731.5"/>
<polygon fill="#c5604f" points="604,691.8 621.3,691.8 623.6,695.7 618.9,701.2 618.9,715.3 613.4,715.3 612.6,736.5 604,736.5"/>
<polygon fill="#c5604f" points="613.4,716.1 620.5,716.1 622.8,719.3 649.5,720 645.6,732.6 641.7,731.8 638.5,735.7 628.3,737.3 616.6,738.4 613.4,736.8"/>
<polygon fill="#c5604f" points="618.9,701.2 624.4,696.5 645.6,701.2 657.4,703.6 655,711.4 650.3,719.3 622.8,718.9 620.5,715.8 618.9,715.3"/>
<polygon fill="#c5604f" points="622.1,685.5 638.5,686.3 645.6,685.5 651.9,688.6 655,691 662.1,688.6 663.7,692.6 658.2,694.9 648.7,700.4 625.2,696.5 623.6,689.4"/>
<polygon fill="#c5604f" points="598.5,765.6 615.8,765.6 615.8,784.4 622.1,784.9 622.1,804.8 609.5,804.8 600.1,803.3 594.6,800.1 589.1,797 586.7,793"/>
<polygon fill="#c5604f" points="396.9,512.6 462.8,512.6 462.8,559.3 422.8,559.3 426.7,555.7 423.6,552.6 425.1,549.5 427.5,547.1 428.3,542.4 426.7,539.3 421.2,537.7 418.8,530.6 415.7,523.6 411,518.1 400,515.7 396.9,515.7"/>
<polygon fill="#8bb661" points="423.1,560.1 476.2,560.1 476.2,616.2 473.8,617 473.5,620.9 469.1,617 460.4,609.9 458.9,606.8 450.2,603.6 447.1,598.9 441.6,590.3 433.8,588.7 423.1,587.9"/>
<polygon fill="#c5604f" points="515.4,572.2 528.7,572.2 528.7,582.4 533,582.4 533,598.1 512.3,598.1 509.9,593.4 511.5,587.9 513,580.1"/>
<polygon fill="#8bb661" points="476.9,599.2 506.8,599.2 506.8,630 480.1,630 478.5,628 473.8,621.7 473.5,620.9 474.1,617 476.5,616.2"/>
<polygon fill="#8bb661" points="507.6,599.2 542.6,599.2 542.6,630 507.6,630"/>
<polygon fill="#c5604f" points="660.5,678.5 677,675.7 675.4,684.8 669.9,685.6 662.1,681.6"/>
<polygon fill="#c5604f" points="655.8,691.1 665.2,688.7 663.6,693.4 658.9,694.2"/>
<polygon fill="#c5604f" points="677,685.6 678.1,686 670.7,695 664.4,701.3 658.1,710.7 653.4,720.1 651.1,727.2 649.8,726.9 652.3,719.3 657,709.9 663.3,700.5 669.6,693.9"/>
<polyline fill="none" points="786,403.2 819,402.4"/>
<polyline fill="none" points="786,409.9 791.1,413.4 798.1,418.1 803.6,415.4 809.9,413 815.4,411.5 819,412.3"/>
<polyline fill="none" points="593.8,396.1 612.2,396.1"/>
<polyline fill="none" points="727.6,539.4 729.1,569.3 721.3,567.7 711.1,563.8 711.9,553.6 709.5,541 710.3,527.2"/>
<polyline fill="none" points="751.1,545.7 759,556.7 777.8,547.3"/>
<polyline fill="none" points="759,556.7 764.4,567.7 769.9,578.7 770.7,584.2 780.9,584.2"/>
<polyline fill="none" points="729.1,569.3 740.9,566.9 746.4,570 754.2,574.7 764.4,567.7"/>
<polyline fill="none" points="721.3,567.7 724.4,577.1 769.9,578.7"/>
<polyline fill="none" points="711.1,563.8 709.5,570.8 713.4,577.1 712.6,583.4 717.3,597.5"/>
<polyline fill="none" points="704,553.6 711.9,553.6"/>
<polyline fill="none" points="687.7,534.7 691.6,537.9 704,553.6 684.5,559"/>
<polyline fill="none" points="687.7,572.4 704,570.8"/>
<polyline fill="none" points="544,545.7 566,545.7 566,530"/>
<polyline fill="none" points="566,545.7 586.1,547"/>
<polyline fill="none" points="548.7,547.3 548.7,567.7 585.6,567.7"/>
<polyline fill="none" points="568.3,568.5 568.3,589.7 573.8,592 575.1,593.6"/>
<polyline fill="none" points="544,582.6 555,582.6 568.3,589.7"/>
<polyline fill="none" points="594.2,579.5 583.3,592"/>
<polyline fill="none" points="599.7,574.7 615.4,590.4 620.9,586.5"/>
<polyline fill="none" points="615.4,590.4 601.3,599.9"/>
<polyline fill="none" points="622.5,584.2 630.4,574.7 634.3,572.4 639.8,566.1 652.3,556.7 653.9,549.6"/>
<polyline fill="none" points="634.3,572.4 650.8,589.7 636.6,598.3"/>
<polyline fill="none" points="650.8,589.7 652.3,589.7"/>
<polyline fill="none" points="636.6,598.3 635.1,598.3"/>
<polyline fill="none" points="650.8,589.7 661,598.3 656.3,599.1 654.7,614.8"/>
<polyline fill="none" points="656.3,599.1 673.5,599.1 689.2,615.6 671.2,630.5 654.7,614.8"/>
<polyline fill="none" points="629.6,605.4 654.7,614.8"/>
<polyline fill="none" points="624.9,615.6 635.1,628.9 629.6,635.2"/>
<polyline fill="none" points="595,628.9 624.9,615.6"/>
<polyline fill="none" points="606.8,642.3 629.6,623.4"/>
<polyline fill="none" points="629.6,635.2 637.4,646.2"/>
<polyline fill="none" points="609.2,647.8 611.5,654.8"/>
<polyline fill="none" points="544,656.4 573.8,656.4 573.8,678.1"/>
<polyline fill="none" points="598.2,656.4 598.2,678.1"/>
<polyline fill="none" points="542.8,735.7 574.6,735.7 574.6,691.8 544.3,692.2 544.3,680"/>
<polyline fill="none" points="574.6,691.8 574.6,680"/>
<polyline fill="none" points="598.5,680 598.5,691"/>
<polyline fill="none" points="566.6,736.5 566.6,764.8 556.9,775.8"/>
<polyline fill="none" points="566.6,764.8 598.5,764.8"/>
<polyline fill="none" points="589.1,732.6 591.4,749.1 593.8,764.8"/>
<polyline fill="none" points="616.1,737.3 616.1,765.6"/>
<polyline fill="none" points="616.1,774.2 644,774.2"/>
<polyline fill="none" points="622.8,790.7 640.1,792.3 647.2,786.8"/>
<polyline fill="none" points="615.8,775 616.6,774.2"/>
<polyline fill="none" points="463.9,534.1 539,534.1"/>
<polyline fill="none" points="506.3,512.6 506.3,559.3"/>
<polyline fill="none" points="462.8,559.3 548.1,559.3"/>
<polyline fill="none" points="548.1,547.1 548.1,568.6 560,568.6"/>
<polyline fill="none" points="525.1,560.1 525.1,572.2"/>
<polyline fill="none" points="476.9,560.1 476.9,598.1 512.3,598.1"/>
<polyline fill="none" points="533,582.4 554.7,582.7 560,586"/>
<polyline fill="none" points="533,598.4 560,598.4"/>
<polyline fill="none" points="543.2,599.2 543.2,630"/>
<polyline fill="none" points="480.1,630.8 560,630.8"/>
<polyline fill="none" points="506.8,630.8 506.8,648.1"/>
<polyline fill="none" points="542.6,630.8 542.6,648.1"/>
<polyline fill="none" points="507,630 507,682.5 543.8,682.5"/>
<polyline fill="none" points="543.2,630 543.2,691.2 598.8,691.2"/>
<polyline fill="none" points="507,656.2 598.8,656.2"/>
<polyline fill="none" points="574.5,656.2 574.5,691.2"/>
<polyline fill="none" points="598.2,656.2 598.2,691.2"/>
</g>
<polygon fill="#c5d9ef" points="677,669.1 680.9,671.4 684.8,675.7 695,671 700,668.5 701,670.5 695.8,673.8 685.6,678.5 677,685.6 675.4,684.8 677.8,675.4"/>
<polygon fill="#c5d9ef" points="770,596.8 774.6,596 780.9,592 784.9,591.2 784.9,597.5 780.9,603 787.2,602.2 795.1,601.5 801.3,600.7 802.1,602.2 792,607 787.2,610 784.1,614.8 777.8,620.3 770,625.8 765.2,630.5 762.1,629 762.9,625 767.6,623.4 775.4,618 775.4,610 773.1,606.2 770,603.8"/>
<polygon fill="#c5d9ef" points="829.6,579.5 835.1,578.7 835.1,583.4 831.2,588.9 829.6,593.6 826.5,588.9 829.6,585"/>
<polygon fill="#c5d9ef" points="658.9,685.6 668.3,684.8 675.4,685.6 669.9,694.2 663.6,700.5 660.5,702 658.1,695 663.6,692.6 665.2,688.7 662.1,688"/>
<polygon fill="#c5d9ef" points="647.9,700.8 658.1,695 660.5,702 657.3,709.9 650.3,708.3"/>
<polygon fill="#c5d9ef" points="638.5,735.8 641.6,731.9 645.6,733.5 647.9,734.3 647.1,738.2 638.5,738.2"/>
<polyline fill="none" stroke="#c5d9ef" stroke-width="3" stroke-linejoin="round" points="672.5,686 668,690.5 662,698 656.9,707.5 651.2,719 647.7,730.5 645.4,737.3 644.5,756.4 647.7,772 652.1,789.3 655,804.5 655.9,809.8"/>
<polyline fill="none" stroke="#f6ecd0" stroke-width="0.9" stroke-opacity="0.8" points="659,708.6 653.3,720 649.8,731.5 647.5,737.3 646.6,756.4 649.8,771.6 654.2,788.8 657.1,804.1 658,809.8"/>
<polyline fill="none" stroke="#9c9cb2" stroke-width="2" stroke-linejoin="round" points="658.2,809.8 645.6,809.5 636.2,808 626.8,805.6 617.3,804.8 609.5,804.8 600.1,803.2 594.6,800.1 589.1,797 582.8,795.4 574.2,789.9 565.5,787.6 558.5,783.6 556.9,775.8 551.4,765.6 545.9,755.4 540.4,745.9 542,736.5 538.1,731.8 538.8,726.3 534.9,717.7 527.9,713.8 523.1,708.3 520,702 516.2,696.2 508.8,685 500,677.5 496.2,665 491.2,658.8 486.4,648 481.6,638.2 478.5,628 473.8,621.7 469.1,617.8 460.4,611.5 458.9,607.6 449.5,603.6 446.3,598.9 440.8,590.3 433.8,589.5 423.6,588.7 413.3,587.9 406.2,587.5 392.5,582.5 391.2,587.5 375,591.2 372.5,595 365.5,617.5 365,622.5 360,625 351.2,635.8 338.8,633.8 322.5,623.8 317.5,618.8 303.8,615 290,605 280,596.2 277.5,588.8 272.5,578.8 271.2,566.2 262.5,551.2 261.2,543.8 258.8,538.8 245,528.8 237.5,526.2 228.8,520 226.2,513.8 218.8,507.5 206.2,493.8 192.5,487.5 186.2,477.5 171.2,456.2"/>
<polyline fill="none" stroke="#9c9cb2" stroke-width="2" stroke-linejoin="round" points="24,497.6 89.5,497.6 89.5,470.6 153.2,470.6 171.25,456.25"/>
<polyline fill="none" stroke="#77778e" stroke-width="0.8" stroke-dasharray="3,1.2,1,1.2" points="171.2,456.2 355.8,456.2 355.8,176.2 512.5,176.2 512.5,296.2 516.2,298.8 520,302.5 526.2,307 532.5,309.5 538.8,308.8 543.8,307.5 546.2,305 552.5,312.5 555,318.8 566.2,321.2 575,323 580,325.9 583.1,324.3 587.1,325.9 591,329 594.1,329 597.3,325.4 603.6,325.9 609,325.1 611.4,332.2 616.9,334.2 617.7,340.8 621.6,342.4 627.1,339.3 634.2,334.9 637.3,338.5 642,340 644.4,344 649.1,343.2 653.8,340.8 656.2,341.1 657.7,346.3 660.9,351 664,347.1 667.1,340 670.3,337.4 674.2,341.6 678.9,344 682.1,342.4 685.2,340 689.9,344 693,346.3 697,347.9 700.9,351.8 704.7,348.7 710.2,344.7 718.8,342.4 723.6,340.8 727.5,342.4 733,339.3 739.3,337.4 744,340.8 750.2,342.4 754.2,340 758.1,336.4 762.8,338.5 767.5,341.6 772.2,344.7 776.9,349.5 783.2,351.8 789.5,354.2 795.8,355.7 798.9,358.9 802.8,361.2 808.3,359.7 814.6,360.4 819.3,360.9 819.6,458 824.9,462 828.8,467.5 830.4,473.8 829.6,480 834.3,485.6 838.2,493.4 842.2,502 844.5,506.8 846.1,513 844.5,519.3 843,525.6 843,530 839.8,536.3 836.7,542.6 835.1,547.3 836.7,552 835.1,556.7 836.7,561.4 837.1,567.7 835.1,574 832.7,578.7"/>
<g font-weight="bold" fill="#2e2e2e" stroke="#fbfaf4" stroke-width="3" stroke-linejoin="round" stroke-opacity="0.9">
<text x="177.5" y="232.5" font-size="18" textLength="61" lengthAdjust="spacingAndGlyphs">Santa Fe</text>
<text x="126.5" y="270" font-size="18" textLength="89" lengthAdjust="spacingAndGlyphs">Albuquerque</text>
<text x="153.5" y="475.5" font-size="18" textLength="52" lengthAdjust="spacingAndGlyphs">El Paso</text>
<text x="163" y="659.5" font-size="18" textLength="74.5" lengthAdjust="spacingAndGlyphs">Chihuahua</text>
<text x="388.5" y="262.5" font-size="18" textLength="61" lengthAdjust="spacingAndGlyphs">Amarillo</text>
<text x="588.5" y="246.5" font-size="18" textLength="104.5" lengthAdjust="spacingAndGlyphs">Oklahoma City</text>
<text x="699.5" y="203.5" font-size="18" textLength="40" lengthAdjust="spacingAndGlyphs">Tulsa</text>
<text x="656" y="412.7" font-size="18" textLength="44.2" lengthAdjust="spacingAndGlyphs">Dallas</text>
<text x="795.5" y="428" font-size="18" textLength="76.5" lengthAdjust="spacingAndGlyphs">Shreveport</text>
<text x="606.5" y="563.75" font-size="18" textLength="45.25" lengthAdjust="spacingAndGlyphs">Austin</text>
<text x="547.5" y="613.75" font-size="18" textLength="87" lengthAdjust="spacingAndGlyphs">San Antonio</text>
<text x="722.5" y="594.4" font-size="18" textLength="58.5" lengthAdjust="spacingAndGlyphs">Houston</text>
<text x="597" y="709.2" font-size="18" textLength="99.25" lengthAdjust="spacingAndGlyphs">Corpus Christi</text>
<text x="514.5" y="726.3" font-size="18" textLength="48" lengthAdjust="spacingAndGlyphs">Laredo</text>
<text x="601.25" y="820.5" font-size="18" textLength="80" lengthAdjust="spacingAndGlyphs">Matamoros</text>
<text x="460.75" y="832.5" font-size="18" textLength="72.25" lengthAdjust="spacingAndGlyphs">Monterrey</text>
<text x="310.5" y="840" font-size="18" textLength="54.5" lengthAdjust="spacingAndGlyphs">Torreón</text>
<text x="921" y="554" font-size="18" textLength="90" lengthAdjust="spacingAndGlyphs">Baton Rouge</text>
<text x="978.5" y="583" font-size="18" textLength="90" lengthAdjust="spacingAndGlyphs">New Orleans</text>
</g>
<g font-weight="bold" fill="#2e2e2e" stroke="#2e2e2e" stroke-width="0.45" stroke-linejoin="round">
<text x="177.5" y="232.5" font-size="18" textLength="61" lengthAdjust="spacingAndGlyphs">Santa Fe</text>
<text x="126.5" y="270" font-size="18" textLength="89" lengthAdjust="spacingAndGlyphs">Albuquerque</text>
<text x="153.5" y="475.5" font-size="18" textLength="52" lengthAdjust="spacingAndGlyphs">El Paso</text>
<text x="163" y="659.5" font-size="18" textLength="74.5" lengthAdjust="spacingAndGlyphs">Chihuahua</text>
<text x="388.5" y="262.5" font-size="18" textLength="61" lengthAdjust="spacingAndGlyphs">Amarillo</text>
<text x="588.5" y="246.5" font-size="18" textLength="104.5" lengthAdjust="spacingAndGlyphs">Oklahoma City</text>
<text x="699.5" y="203.5" font-size="18" textLength="40" lengthAdjust="spacingAndGlyphs">Tulsa</text>
<text x="656" y="412.7" font-size="18" textLength="44.2" lengthAdjust="spacingAndGlyphs">Dallas</text>
<text x="795.5" y="428" font-size="18" textLength="76.5" lengthAdjust="spacingAndGlyphs">Shreveport</text>
<text x="606.5" y="563.75" font-size="18" textLength="45.25" lengthAdjust="spacingAndGlyphs">Austin</text>
<text x="547.5" y="613.75" font-size="18" textLength="87" lengthAdjust="spacingAndGlyphs">San Antonio</text>
<text x="722.5" y="594.4" font-size="18" textLength="58.5" lengthAdjust="spacingAndGlyphs">Houston</text>
<text x="597" y="709.2" font-size="18" textLength="99.25" lengthAdjust="spacingAndGlyphs">Corpus Christi</text>
<text x="514.5" y="726.3" font-size="18" textLength="48" lengthAdjust="spacingAndGlyphs">Laredo</text>
<text x="601.25" y="820.5" font-size="18" textLength="80" lengthAdjust="spacingAndGlyphs">Matamoros</text>
<text x="460.75" y="832.5" font-size="18" textLength="72.25" lengthAdjust="spacingAndGlyphs">Monterrey</text>
<text x="310.5" y="840" font-size="18" textLength="54.5" lengthAdjust="spacingAndGlyphs">Torreón</text>
<text x="921" y="554" font-size="18" textLength="90" lengthAdjust="spacingAndGlyphs">Baton Rouge</text>
<text x="978.5" y="583" font-size="18" textLength="90" lengthAdjust="spacingAndGlyphs">New Orleans</text>
</g>
<g font-weight="bold" fill="#6a3c3c" stroke="#fbfaf4" stroke-width="2.4" stroke-linejoin="round" stroke-opacity="0.9">
<text transform="translate(164.5,302) scale(0.8,1)" font-size="12.8" textLength="101.25" lengthAdjust="spacing">NEW MEXICO</text>
<text transform="translate(618,277.5) scale(0.8,1)" font-size="12.8" textLength="90" lengthAdjust="spacing">OKLAHOMA</text>
<text transform="translate(867,261.5) scale(0.8,1)" font-size="12.8" textLength="86.875" lengthAdjust="spacing">ARKANSAS</text>
<text transform="translate(518,470.5) scale(0.8,1)" font-size="12.8" textLength="52.1875" lengthAdjust="spacing">TEXAS</text>
<text transform="translate(889.7,528.2) scale(0.8,1)" font-size="12.8" textLength="86.875" lengthAdjust="spacing">LOUISIANA</text>
</g>
<g font-weight="bold" fill="#6a3c3c" stroke="#6a3c3c" stroke-width="0.35">
<text transform="translate(164.5,302) scale(0.8,1)" font-size="12.8" textLength="101.25" lengthAdjust="spacing">NEW MEXICO</text>
<text transform="translate(618,277.5) scale(0.8,1)" font-size="12.8" textLength="90" lengthAdjust="spacing">OKLAHOMA</text>
<text transform="translate(867,261.5) scale(0.8,1)" font-size="12.8" textLength="86.875" lengthAdjust="spacing">ARKANSAS</text>
<text transform="translate(518,470.5) scale(0.8,1)" font-size="12.8" textLength="52.1875" lengthAdjust="spacing">TEXAS</text>
<text transform="translate(889.7,528.2) scale(0.8,1)" font-size="12.8" textLength="86.875" lengthAdjust="spacing">LOUISIANA</text>
</g>
<rect x="656.9" y="826.6" width="337" height="27" fill="#fff" fill-opacity="0.5"/>
<text x="663" y="845.5" font-size="15" fill="#3d3d3d" textLength="323" lengthAdjust="spacingAndGlyphs">© OpenMapTiles © OpenStreetMap contributors</text>
<rect x="938" y="155" width="43" height="83.5" rx="5.5" fill="#fff" stroke="#dedbd5" stroke-width="2"/>
<line x1="939" x2="980" y1="196.7" y2="196.7" stroke="#dedbd5" stroke-width="1.2"/>
<path d="M953.2,176h13M959.7,169.5v13M953.6,217.6h12" stroke="#2e2e2e" stroke-width="3" stroke-linecap="round" fill="none"/>
</svg></div>
<div id="foot1" class="abs">Source: <span style="text-decoration:underline">CDC</span> • Map created by Christopher Adams, KXAN</div>
<div id="foot2" class="abs">Data is updated each Thursday</div>
<div id="logo"><svg width="47" height="47" viewBox="0 0 47 47"><g fill="none" stroke="#fff" stroke-width="1.9" stroke-linecap="butt"><path d="M3.6,16V28.8M4.2,24.6L9.9,19.2M6.2,22.9L10.6,28.8"/><path d="M12.4,19.3L20,28.8M20,19.3L12.4,28.8"/><circle cx="24.6" cy="24.1" r="3.8"/><path d="M28.5,19.3V28.8"/><path d="M30.7,19.3V28.8M30.7,23.6a3.2,3.4 0 0 1 6.4,0V28.8"/></g><path d="M40.3,28.7L36.4,28.7A3.9,3.9 0 0 1 37.4,26.1Z" fill="#f2b33a"/><path d="M40.3,28.7L37.4,26.1A3.9,3.9 0 0 1 39.4,24.9Z" fill="#e8553a"/><path d="M40.3,28.7L39.4,24.9A3.9,3.9 0 0 1 41.2,24.9Z" fill="#ffffff"/><path d="M40.3,28.7L41.2,24.9A3.9,3.9 0 0 1 43.2,26.1Z" fill="#7c5fc0"/><path d="M40.3,28.7L43.2,26.1A3.9,3.9 0 0 1 44.2,28.7Z" fill="#5fae5a"/></svg></div>
</body></html>
